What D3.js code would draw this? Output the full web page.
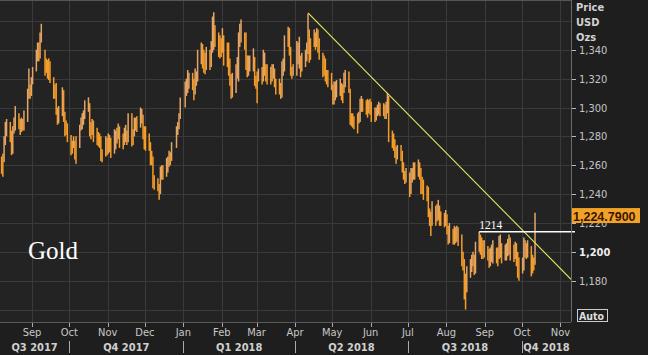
<!DOCTYPE html>
<html><head><meta charset="utf-8">
<script src="https://cdn.jsdelivr.net/npm/d3@7"></script>
<style>
html,body{margin:0;padding:0;background:#1e1e1e;}
svg{display:block;}
</style></head><body>
<svg id="c" width="648" height="355"></svg>
<script>
// ---------- data ----------
const startDate = "2017-08-07";
const endDate = "2018-10-11";
const closedDays = ["2017-12-25", "2018-01-01"];
// daily lows (one row per week)
const lows = [
1254,1252,1262,1274,1280,
1276,1267,1268,1282,1284,
1285,1281,1283,1284,1284,
1290,1306,1306,1308,1316,
1325,1332,1332,1334,1345,
1322,1324,1320,1319,1317,
1306,1306,1295,1288,1289,
1294,1290,1280,1281,1276,
1267,1268,1272,1264,1261,
1272,1284,1285,1288,1292,
1297,1280,1278,1281,1276,
1274,1273,1272,1263,1262,
1266,1267,1268,1269,1265,
1268,1271,1275,1278,1272,
1271,1274,1276,1274,1276,
1273,1274,1280,1284,1283,
1286,1289,1278,1271,1270,
1270,1260,1260,1244,1243,
1242,1236,1240,1250,1250,
1252,1255,1259,1260,1263,
1272,1281,1285,1292,
1300,1308,1310,1313,
1312,1305,1309,1315,1318,
1330,1327,1324,1323,1326,
1326,1328,1338,1340,1342,
1335,1334,1335,1338,1329,
1328,1322,1315,1306,1307,
1310,1320,1318,1342,1345,
1340,1326,1321,1322,1325,
1325,1315,1313,1303,1318,
1316,1318,1322,1318,1316,
1316,1318,1320,1314,1309,
1309,1306,1307,1322,1325,
1342,1336,1322,1320,1322,
1322,1330,1327,1321,1325,
1328,1332,1337,1331,1333,
1342,1340,1342,1338,1333,
1321,1322,1318,1316,1314,
1312,1302,1302,1305,1307,
1308,1305,1303,1310,1314,
1310,1288,1287,1286,1285,
1282,1289,1290,1297,1297,
1295,1293,1296,1295,1290,
1290,1291,1294,1295,1294,
1294,1292,1292,1296,1276,
1272,1270,1265,1261,1264,
1263,1255,1250,1247,1248,
1238,1240,1248,1250,1250,
1252,1250,1240,1240,1236,
1235,1224,1218,1211,1218,
1218,1221,1222,1218,1218,
1217,1218,1212,1205,1206,
1205,1205,1206,1207,1204,
1190,1187,1167,1160,1172,
1182,1186,1190,1184,1185,
1200,1198,1195,1195,1196,
1194,1189,1190,1193,1192,
1192,1190,1195,1196,1192,
1194,1194,1197,1198,1194,
1193,1195,1190,1182,1180,
1185,1187,1196,1195,1196,
1183,1185,1187,1191
];
// daily highs (one row per week)
const highs = [
1266,1268,1280,1290,1292,
1290,1284,1287,1293,1301,
1296,1292,1293,1292,1298,
1313,1327,1316,1321,1328,
1340,1345,1345,1352,1358,
1340,1334,1333,1334,1332,
1321,1316,1317,1300,1301,
1314,1312,1297,1291,1289,
1281,1277,1280,1277,1280,
1288,1293,1296,1298,1305,
1307,1303,1290,1292,1291,
1286,1283,1282,1280,1271,
1280,1279,1282,1281,1279,
1285,1284,1286,1289,1287,
1282,1286,1288,1284,1296,
1296,1285,1293,1293,1294,
1300,1299,1295,1287,1287,
1282,1276,1270,1266,1253,
1251,1247,1259,1260,1260,
1265,1266,1270,1269,1276,
1287,1290,1296,1307,
1318,1320,1326,1324,
1324,1320,1327,1325,1340,
1345,1344,1340,1338,1342,
1340,1346,1363,1366,1357,
1352,1350,1348,1355,1350,
1345,1345,1334,1323,1324,
1330,1335,1352,1358,1361,
1352,1352,1336,1336,1336,
1341,1335,1322,1325,1327,
1328,1340,1338,1330,1330,
1328,1330,1330,1327,1320,
1320,1317,1332,1334,1350,
1356,1355,1342,1328,1330,
1346,1345,1349,1336,1338,
1340,1345,1365,1354,1348,
1354,1352,1355,1354,1348,
1338,1336,1334,1326,1326,
1324,1316,1318,1318,1319,
1320,1317,1316,1324,1326,
1325,1313,1296,1296,1294,
1296,1297,1306,1308,1306,
1305,1306,1305,1306,1304,
1300,1300,1302,1304,1303,
1303,1302,1304,1310,1308,
1284,1282,1278,1273,1274,
1274,1270,1262,1256,1258,
1255,1258,1258,1262,1262,
1264,1262,1258,1252,1250,
1246,1245,1230,1228,1235,
1232,1233,1236,1232,1228,
1227,1229,1226,1218,1220,
1216,1218,1217,1218,1217,
1212,1200,1195,1185,1190,
1195,1198,1200,1198,1207,
1214,1212,1210,1208,1208,
1204,1202,1203,1205,1208,
1203,1203,1211,1212,1206,
1205,1206,1209,1212,1210,
1205,1207,1206,1200,1196,
1196,1210,1208,1206,1208,
1204,1198,1196,1227
];
const yTicks = [1180, 1200, 1220, 1240, 1260, 1280, 1300, 1320, 1340];
const yGrid = [1160, 1180, 1200, 1220, 1240, 1260, 1280, 1300, 1320, 1340, 1360];
const monthTicks = ["2017-09-01","2017-10-01","2017-11-01","2017-12-01","2018-01-01","2018-02-01","2018-03-01","2018-04-01","2018-05-01","2018-06-01","2018-07-01","2018-08-01","2018-09-01","2018-10-01","2018-11-01"];
const monthLabels = ["Sep","Oct","Nov","Dec","Jan","Feb","Mar","Apr","May","Jun","Jul","Aug","Sep","Oct","Nov"];
const quarterBounds = ["2017-10-01","2018-01-01","2018-04-01","2018-07-01","2018-10-01"];
const quarterLabels = ["Q3 2017","Q4 2017","Q1 2018","Q2 2018","Q3 2018","Q4 2018"];
const lastPrice = 1224.79;
const supportLevel = 1214;
const supportStart = "2018-08-27";
const trendLine = [["2018-04-11", 1365.5], ["2018-11-09", 1181]];
const seriesName = "Gold";
const unitLines = ["Price", "USD", "Ozs"];

// ---------- layout ----------
const W = 648, H = 355;
const plotR = 571, plotB = 322;
const parse = d3.utcParse("%Y-%m-%d");
const noon = d => d3.utcHour.offset(d, 12);

const x = d3.scaleUtc().domain([parse("2017-09-01"), parse("2018-10-01")]).range([32, 522]);
const y = d3.scaleLinear().domain([1180, 1300]).range([280.7, 107.5]);

const closedSet = new Set(closedDays);
const fmtD = d3.utcFormat("%Y-%m-%d");
const days = d3.utcDay.range(parse(startDate), d3.utcDay.offset(parse(endDate), 1))
  .filter(d => d.getUTCDay() !== 0 && d.getUTCDay() !== 6 && !closedSet.has(fmtD(d)));
const n = Math.min(days.length, lows.length, highs.length);
const bars = d3.range(n).map(i => ({date: days[i], lo: lows[i], hi: highs[i]}));

const svg = d3.select("#c");
svg.append("rect").attr("width", W).attr("height", H).attr("fill", "#1e1e1e");
svg.append("rect").attr("x", 0).attr("y", 0).attr("width", plotR).attr("height", plotB).attr("fill", "#232323");

const defs = svg.append("defs");
defs.append("clipPath").attr("id", "pc").append("rect").attr("x", 0).attr("y", 0).attr("width", plotR).attr("height", plotB);

// grid
const g = svg.append("g").attr("clip-path", "url(#pc)");
g.selectAll("line.hg").data(yGrid).join("line")
  .attr("x1", 0).attr("x2", plotR)
  .attr("y1", d => Math.round(y(d)) + 0.5).attr("y2", d => Math.round(y(d)) + 0.5)
  .attr("stroke", "#3a3a3a").attr("stroke-width", 1);
g.selectAll("line.vg").data(monthTicks).join("line")
  .attr("x1", d => Math.round(x(parse(d))) + 0.5).attr("x2", d => Math.round(x(parse(d))) + 0.5)
  .attr("y1", 0).attr("y2", plotB)
  .attr("stroke", "#3a3a3a").attr("stroke-width", 1);

// bars
g.selectAll("line.bar").data(bars).join("line")
  .attr("x1", d => x(noon(d.date))).attr("x2", d => x(noon(d.date)))
  .attr("y1", d => y(d.hi)).attr("y2", d => y(d.lo))
  .attr("stroke", (d, i) => (i > 0 && (d.hi + d.lo) > (bars[i-1].hi + bars[i-1].lo)) ? "#e4a566" : "#f59d28")
  .attr("stroke-width", 1.5);

// trend line
g.append("line")
  .attr("x1", x(noon(parse(trendLine[0][0])))).attr("y1", y(trendLine[0][1]))
  .attr("x2", x(noon(parse(trendLine[1][0])))).attr("y2", y(trendLine[1][1]))
  .attr("stroke", "#e8e860").attr("stroke-width", 1.1);

// support line
svg.append("line")
  .attr("x1", x(noon(parse(supportStart)))).attr("x2", plotR + 4)
  .attr("y1", y(supportLevel)).attr("y2", y(supportLevel))
  .attr("stroke", "#ffffff").attr("stroke-width", 1.5);
svg.append("text")
  .attr("x", x(noon(parse(supportStart)))).attr("y", y(supportLevel) - 3)
  .attr("fill", "#ffffff").attr("font-family", "Liberation Serif, serif").attr("font-size", 11.5)
  .text(String(supportLevel));

// borders
svg.append("line").attr("x1", 0).attr("x2", plotR).attr("y1", 0.5).attr("y2", 0.5).attr("stroke", "#555");
svg.append("line").attr("x1", 0).attr("x2", plotR).attr("y1", plotB + 0.5).attr("y2", plotB + 0.5).attr("stroke", "#5a5a5a");
svg.append("line").attr("x1", plotR + 0.5).attr("x2", plotR + 0.5).attr("y1", 0).attr("y2", plotB).attr("stroke", "#6a6a6a");

// y axis
const fmtY = d3.format(",");
const ya = svg.append("g");
ya.selectAll("line").data(yTicks).join("line")
  .attr("x1", plotR + 1).attr("x2", plotR + 5)
  .attr("y1", d => Math.round(y(d)) + 0.5).attr("y2", d => Math.round(y(d)) + 0.5)
  .attr("stroke", "#bbbbbb");
ya.selectAll("text").data(yTicks).join("text")
  .attr("x", plotR + 8).attr("y", d => y(d) + 4)
  .attr("fill", d => d === 1200 ? "#eeeeee" : "#c4c4c4")
  .attr("font-weight", d => d === 1200 ? "bold" : "normal")
  .attr("font-family", "DejaVu Sans Condensed, Liberation Sans, sans-serif").attr("font-size", 11)
  .text(d => fmtY(d));

svg.selectAll("text.unit").data(unitLines).join("text")
  .attr("x", 576).attr("y", (d, i) => 11 + i * 15)
  .attr("fill", "#d2d2d2").attr("font-weight", "bold")
  .attr("font-family", "DejaVu Sans Condensed, Liberation Sans, sans-serif").attr("font-size", 11)
  .text(d => d);

// last price label
svg.append("rect").attr("x", plotR + 1).attr("y", y(lastPrice) - 8).attr("width", 68).attr("height", 15).attr("fill", "#f2a227");
svg.append("text").attr("x", plotR + 2).attr("y", y(lastPrice) + 4.5)
  .attr("fill", "#3a1600").attr("font-weight", "bold")
  .attr("font-family", "Liberation Sans, Arial, sans-serif").attr("font-size", 12.5)
  .text(d3.format(",.4f")(lastPrice));

// Auto box
svg.append("rect").attr("x", 577.5).attr("y", 309.5).attr("width", 30).attr("height", 12).attr("fill", "none").attr("stroke", "#cccccc");
svg.append("text").attr("x", 579).attr("y", 319.5).attr("fill", "#dddddd").attr("font-weight", "bold")
  .attr("font-family", "DejaVu Sans Condensed, Liberation Sans, sans-serif").attr("font-size", 10.5).text("Auto");

// x axis months
const xa = svg.append("g");
xa.selectAll("line").data(monthTicks).join("line")
  .attr("x1", d => Math.round(x(parse(d))) + 0.5).attr("x2", d => Math.round(x(parse(d))) + 0.5)
  .attr("y1", plotB + 1).attr("y2", plotB + 5).attr("stroke", "#aaaaaa");
xa.selectAll("text").data(monthTicks).join("text")
  .attr("x", d => x(parse(d))).attr("y", 336)
  .attr("text-anchor", "middle").attr("fill", "#c8c8c8")
  .attr("font-family", "DejaVu Sans Condensed, Liberation Sans, sans-serif").attr("font-size", 11)
  .text((d, i) => monthLabels[i]);

// quarters
const qx = quarterBounds.map(d => x(parse(d)));
xa.selectAll("line.q").data(qx).join("line")
  .attr("x1", d => Math.round(d) + 0.5).attr("x2", d => Math.round(d) + 0.5)
  .attr("y1", 341).attr("y2", 353).attr("stroke", "#aaaaaa");
const qEdges = [0, ...qx, plotR];
xa.selectAll("text.q").data(quarterLabels).join("text")
  .attr("x", (d, i) => (qEdges[i] + qEdges[i+1]) / 2).attr("y", 351)
  .attr("text-anchor", "middle").attr("fill", "#d0d0d0").attr("font-weight", "bold")
  .attr("font-family", "DejaVu Sans Condensed, Liberation Sans, sans-serif").attr("font-size", 11)
  .text(d => d);

// series name
svg.append("text").attr("x", 28).attr("y", 259).attr("fill", "#ffffff")
  .attr("font-family", "Liberation Serif, serif").attr("font-size", 25).text(seriesName);
</script>
</body></html>
